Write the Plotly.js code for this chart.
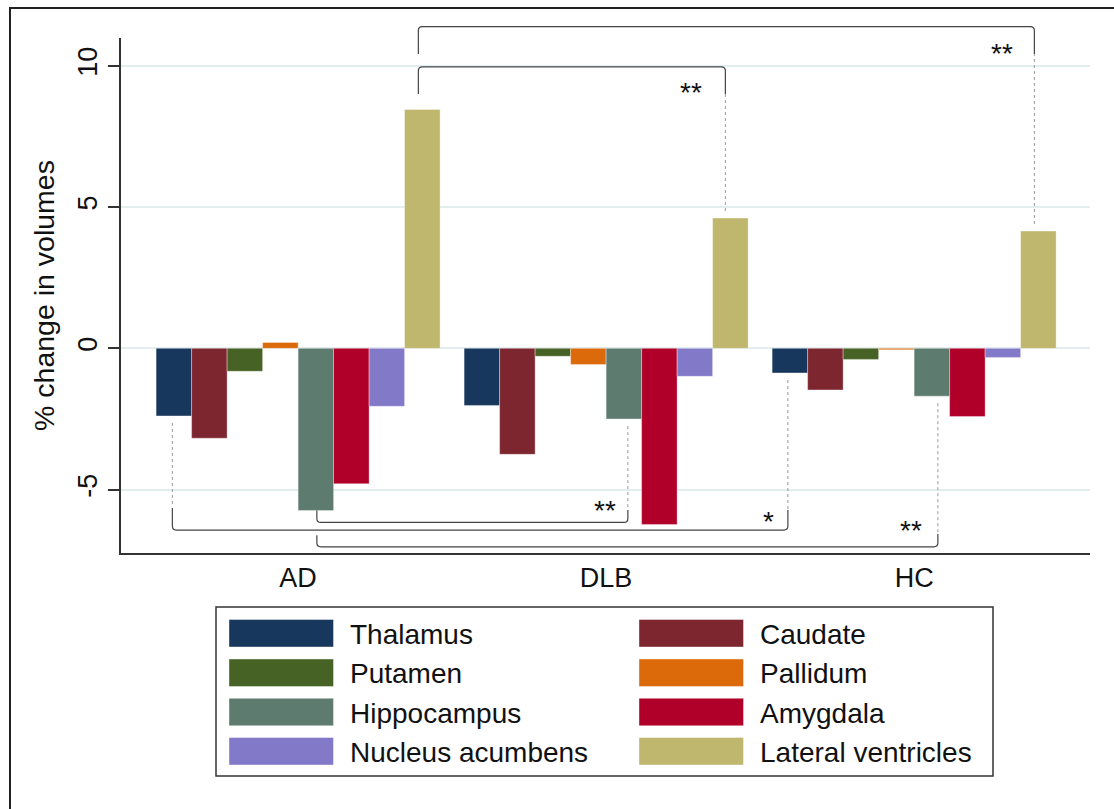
<!DOCTYPE html>
<html>
<head>
<meta charset="utf-8">
<script src="https://cdn.plot.ly/plotly-3.0.1.min.js"></script>
<style>html,body{margin:0;padding:0;background:#fff;}#chart{width:1114px;height:809px;}</style>
</head>
<body>
<div id="chart"></div>
<script>
// ---------- data ----------
const groups = ['AD', 'DLB', 'HC'];
const regions = ['Thalamus', 'Caudate', 'Putamen', 'Pallidum', 'Hippocampus', 'Amygdala', 'Nucleus acumbens', 'Lateral ventricles'];
const thalamus    = [-2.39, -2.02, -0.87];
const caudate     = [-3.18, -3.75, -1.47];
const putamen     = [-0.81, -0.28, -0.39];
const pallidum    = [0.21, -0.57, -0.05];
const hippocampus = [-5.74, -2.50, -1.69];
const amygdala    = [-4.79, -6.23, -2.41];
const nucleus     = [-2.05, -0.99, -0.32];
const ventricles  = [8.45, 4.61, 4.15];
const yTicks = [-5, 0, 5, 10];
// significance brackets: from bar (group, region) to bar (group, region), label
const sigFrom   = [[0, 7], [0, 7], [0, 4], [0, 0], [0, 4]];
const sigTo     = [[1, 7], [2, 7], [1, 4], [2, 0], [2, 4]];
const sigLabels = ['**', '**', '**', '*', '**'];
const sigLevel  = [9.96, 11.38, -6.16, -6.43, -7.02];   // y of the bracket bar
const sigLegL   = [9.0, 10.41, -5.74, -5.65, -6.61];     // end of left leg
const sigLegR   = [9.0, 10.41, -5.72, -5.72, -6.57];     // end of right leg
const sigDotL   = [false, false, false, true, false];

const values = [thalamus, caudate, putamen, pallidum, hippocampus, amygdala, nucleus, ventricles];

// ---------- style ----------
const colors = ['#17375c', '#7d2630', '#466224', '#dc6a0a', '#5e7b70', '#b0002a', '#8279c8', '#bfb76e'];
const FONT = 'Liberation Sans, Arial, Helvetica, sans-serif';
const FS = 27;
const FS_LEG = 28;
const FS_TITLE = 28.5;
const FS_SIG = 28;
const W = 1114, H = 809;
const mL = 121, mR = 24, mT = 38, mB = 256;
const plotW = W - mL - mR, plotH = H - mT - mB;
const xr = [-0.575, 2.571];
const yr = [-7.24, 10.98];
const BARGAP = 0.078;
const nB = regions.length;
const bw = (1 - BARGAP) / nB;
// small pixel nudges of bracket ends relative to bar centres
const sigNudgeL = [-4, -4, 1, -1.5, 1];
const sigNudgeR = [-5, -4, 4, -2, 6];
// label placement offsets (pixels, relative to right end of bracket / bracket bar)
const labDx = [-34, -32, -23, -19, -27];
const labDy = [22, 23, -16, -13, -20];

// coordinate helpers (data -> paper, pixel -> paper)
const dx2p = v => (v - xr[0]) / (xr[1] - xr[0]);
const dy2p = v => (v - yr[0]) / (yr[1] - yr[0]);
const px2p = px => (px - mL) / plotW;
const py2p = py => (H - mB - py) / plotH;
const pxPerX = plotW / (xr[1] - xr[0]);
const pxPerY = plotH / (yr[1] - yr[0]);
const barX = (g, i) => g + (i - (nB - 1) / 2) * bw;

const traces = regions.map((r, i) => ({
  type: 'bar',
  name: r,
  x: groups,
  y: values[i],
  marker: { color: colors[i], line: { width: 1, color: 'rgba(255,255,255,0.35)' } },
  hoverinfo: 'x+y+name'
}));

const shapes = [];
const annotations = [];

// outer frame (top + left edges visible)
shapes.push({ type: 'rect', xref: 'paper', yref: 'paper', x0: px2p(10), x1: px2p(1125), y0: py2p(820), y1: py2p(8),
  line: { color: '#222', width: 2 }, fillcolor: 'rgba(0,0,0,0)', layer: 'below' });

// brackets
const rx = 4 / pxPerX, ry = 4 / pxPerY;
const bracketLine = { color: '#444', width: 1.2 };
const dotLine = { color: '#999', width: 1, dash: 'dot' };
const GAP = 0.25;
for (let k = 0; k < sigLabels.length; k++) {
  const [g0, b0] = sigFrom[k], [g1, b1] = sigTo[k];
  const xL = barX(g0, b0) + sigNudgeL[k] / pxPerX, xR = barX(g1, b1) + sigNudgeR[k] / pxPerX;
  const yH = sigLevel[k];
  const up = yH > 0;
  const s = up ? -1 : 1;
  const yc = yH + s * ry;
  const path = 'M' + dx2p(xL) + ',' + dy2p(sigLegL[k]) +
    ' L' + dx2p(xL) + ',' + dy2p(yc) +
    ' Q' + dx2p(xL) + ',' + dy2p(yH) + ' ' + dx2p(xL + rx) + ',' + dy2p(yH) +
    ' L' + dx2p(xR - rx) + ',' + dy2p(yH) +
    ' Q' + dx2p(xR) + ',' + dy2p(yH) + ' ' + dx2p(xR) + ',' + dy2p(yc) +
    ' L' + dx2p(xR) + ',' + dy2p(sigLegR[k]);
  shapes.push({ type: 'path', xref: 'paper', yref: 'paper', path: path, line: bracketLine });
  const vR = values[b1][g1];
  const startR = vR + (up ? GAP : -GAP);
  if ((up && startR < sigLegR[k]) || (!up && startR > sigLegR[k])) {
    shapes.push({ type: 'line', xref: 'paper', yref: 'paper', x0: dx2p(xR), x1: dx2p(xR),
      y0: dy2p(startR), y1: dy2p(sigLegR[k]), line: dotLine });
  }
  if (sigDotL[k]) {
    const vL = values[b0][g0];
    const startL = vL + (up ? GAP : -GAP);
    shapes.push({ type: 'line', xref: 'paper', yref: 'paper', x0: dx2p(xL), x1: dx2p(xL),
      y0: dy2p(startL), y1: dy2p(sigLegL[k] + (up ? -0.05 : 0.05)), line: dotLine });
  }
  // label
  const pxR = mL + (xR - xr[0]) * pxPerX;
  const pyH = mT + (yr[1] - yH) * pxPerY;
  annotations.push({ xref: 'paper', yref: 'paper', x: px2p(pxR + labDx[k]), y: py2p(pyH + labDy[k] + 4),
    text: sigLabels[k], showarrow: false, xanchor: 'center', yanchor: 'middle',
    font: { family: FONT, size: FS_SIG, color: '#111' } });
}

// custom legend
const legBox = { x0: 216, y0: 607, x1: 993, y1: 776 };
shapes.push({ type: 'rect', xref: 'paper', yref: 'paper', x0: px2p(legBox.x0), x1: px2p(legBox.x1),
  y0: py2p(legBox.y1), y1: py2p(legBox.y0), line: { color: '#333', width: 1.5 }, fillcolor: '#fff' });
const colSw = [229, 639], swW = 104.5, colTx = [348, 758];
const rowTop = [619.5, 659, 698.3, 737.5], swH = 27.5;
regions.forEach((r, i) => {
  const c = i % 2, rw = Math.floor(i / 2);
  shapes.push({ type: 'rect', xref: 'paper', yref: 'paper', x0: px2p(colSw[c]), x1: px2p(colSw[c] + swW),
    y0: py2p(rowTop[rw] + swH), y1: py2p(rowTop[rw]), line: { width: 1, color: 'rgba(255,255,255,0.4)' }, fillcolor: colors[i] });
  annotations.push({ xref: 'paper', yref: 'paper', x: px2p(colTx[c]), y: py2p(rowTop[rw] + swH / 2 + 1),
    text: r, showarrow: false, xanchor: 'left', yanchor: 'middle',
    font: { family: FONT, size: FS_LEG, color: '#111' } });
});

const layout = {
  width: W, height: H,
  margin: { l: mL, r: mR, t: mT, b: mB, pad: 0 },
  paper_bgcolor: '#fff', plot_bgcolor: '#fff',
  barmode: 'group', bargap: BARGAP, bargroupgap: 0,
  showlegend: false,
  font: { family: FONT, size: FS, color: '#111' },
  xaxis: {
    type: 'category', range: xr, showgrid: false, zeroline: false,
    showline: true, linecolor: '#333', linewidth: 1.5, ticks: '',
    tickfont: { family: FONT, size: FS, color: '#111' }, fixedrange: true, automargin: false
  },
  yaxis: {
    range: yr, tickvals: yTicks, ticktext: yTicks.map(String), tickangle: -90,
    ticks: 'outside', ticklen: 11, tickwidth: 1.5, tickcolor: '#333',
    showline: true, linecolor: '#333', linewidth: 1.5,
    showgrid: true, gridcolor: '#e2eded', gridwidth: 2, zeroline: false,
    tickfont: { family: FONT, size: FS, color: '#111' },
    title: { text: '% change in volumes', font: { family: FONT, size: FS_TITLE, color: '#111' } },
    fixedrange: true, automargin: false
  },
  shapes: shapes,
  annotations: annotations
};

Plotly.newPlot('chart', traces, layout, { displayModeBar: false });
</script>
</body>
</html>
